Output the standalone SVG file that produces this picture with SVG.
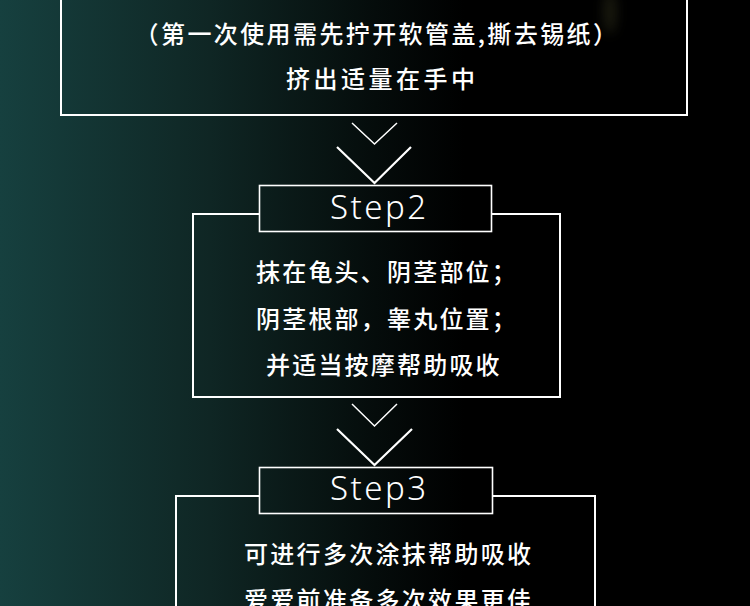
<svg xmlns="http://www.w3.org/2000/svg" width="750" height="606" viewBox="0 0 750 606">
  <defs>
    <linearGradient id="bg" x1="0" y1="0" x2="1" y2="0">
      <stop offset="0" stop-color="#16403f"/>
      <stop offset="0.28" stop-color="#0f2624"/>
      <stop offset="0.5" stop-color="#050c0b"/>
      <stop offset="0.62" stop-color="#000000"/>
      <stop offset="1" stop-color="#000000"/>
    </linearGradient>
    <filter id="blur" x="-1" y="-1" width="3" height="3">
      <feGaussianBlur stdDeviation="6"/>
    </filter>
  </defs>
  <style>
    .box { fill: none; stroke: #ffffff; stroke-width: 2; }
    .stepbox { fill: none; stroke: #ffffff; stroke-width: 1.6; }
    .chev { fill: none; stroke: #ffffff; stroke-linecap: butt; stroke-linejoin: miter; }
    .txt { fill: #ffffff; font-family: "Noto Sans CJK SC", "Noto Sans", sans-serif; font-size: 24px; font-weight: 500; }
    .step { fill: #ffffff; font-family: "Noto Sans", "Open Sans", sans-serif; font-size: 33px; font-weight: 300; letter-spacing: 2.5px; }
  </style>
  <rect x="0" y="0" width="750" height="606" fill="url(#bg)"/>
  <ellipse cx="610" cy="12" rx="7" ry="22" fill="#4a4a2a" opacity="0.35" filter="url(#blur)"/>

  <g id="step1">
    <path class="box" d="M61,-5 V115 H687 V-5" stroke-width="2.5"/>
    <text class="txt" x="377" y="43" text-anchor="middle" letter-spacing="2.4">（第一次使用需先拧开软管盖,撕去锡纸）</text>
    <text class="txt" x="286" y="88" letter-spacing="3.5">挤出适量在手中</text>
  </g>

  <g id="connectors">
    <polyline class="chev" stroke-width="1.5" points="352,123 374.5,144 397,123"/>
    <polyline class="chev" stroke-width="2.2" points="337,147 374.5,183 411,147"/>
    <polyline class="chev" stroke-width="1.5" points="352,404 374.5,426 397,404"/>
    <polyline class="chev" stroke-width="2.2" points="337,429 374.5,465 412,429"/>
  </g>

  <g id="step2">
    <rect class="stepbox" x="259.5" y="185.5" width="232" height="46"/>
    <text class="step" x="330" y="219">Step2</text>
    <path class="box" d="M259.5,214 H193 V397 H560 V214 H491.5"/>
    <text class="txt" x="256" y="281" letter-spacing="2.2">抹在龟头、阴茎部位；</text>
    <text class="txt" x="256" y="328" letter-spacing="2.2">阴茎根部，睾丸位置；</text>
    <text class="txt" x="266" y="374" letter-spacing="2.2">并适当按摩帮助吸收</text>
  </g>

  <g id="step3">
    <rect class="stepbox" x="259.5" y="467.5" width="233" height="46"/>
    <text class="step" x="330" y="500">Step3</text>
    <path class="box" d="M259.5,496 H176 V620 M595,620 V496 H492.5"/>
    <text class="txt" x="244" y="563" letter-spacing="2.3">可进行多次涂抹帮助吸收</text>
    <text class="txt" x="244" y="609" letter-spacing="2.3">爱爱前准备多次效果更佳</text>
  </g>
</svg>
